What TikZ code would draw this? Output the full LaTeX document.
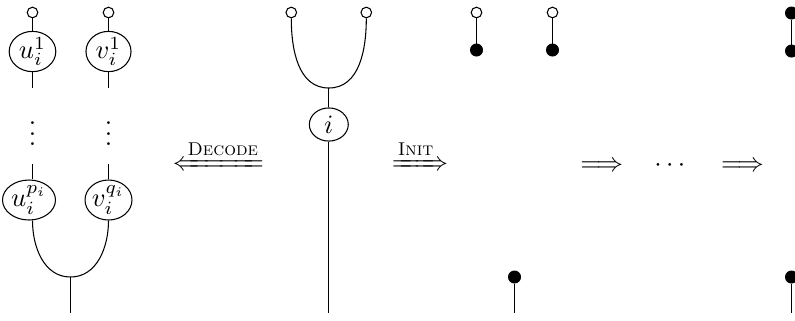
\documentclass[tikz,border=0pt]{standalone}
\usepackage{mathtools}
\usetikzlibrary{shapes.geometric}
\begin{document}
\begin{tikzpicture}[x=0.3774pt,y=-0.3774pt,
  opendot/.style={circle,draw,fill=white,inner sep=0pt,minimum size=4.0pt},
  fulldot/.style={circle,draw,fill=black,inner sep=0pt,minimum size=4.5pt},
  gen/.style={ellipse,draw,inner sep=0pt},
  lab/.style={anchor=base,inner sep=0pt},
]
\useasboundingbox (0,0) rectangle (795,320);
\clip (0,0) rectangle (795,320);

% ---- left diagram ----
\node[opendot] (ou) at (32.5,12.5) {};
\node[gen,minimum width=17.6pt,minimum height=14pt] (u1) at (32.5,51.5) {$u_i^1$};
\node[opendot] (ov) at (108.5,12.5) {};
\node[gen,minimum width=17pt,minimum height=14pt] (v1) at (108.5,51.5) {$v_i^1$};
\coordinate (u1e) at (32.5,88);
\coordinate (v1e) at (108.5,88);
\node[inner sep=0pt] (ud) at (32.5,126) {$\vdots$};
\node[inner sep=0pt] (vd) at (108.5,126) {$\vdots$};
\coordinate (u2s) at (32.5,164);
\coordinate (v2s) at (108.5,164);
\node[gen,minimum width=20pt,minimum height=15.1pt] (u2) at (29,200) {$u_i^{p_i}$};
\node[gen,minimum width=17pt,minimum height=15.1pt] (v2) at (108.5,200) {$v_i^{q_i}$};
\coordinate (j1) at (70.5,277);
\coordinate (e1) at (70.5,313);

\draw (ou) -- (u1);
\draw (ov) -- (v1);
\draw (u1) -- (u1e);
\draw (v1) -- (v1e);
\draw (u2s) -- (u2s |- u2.north);
\draw (v2s) -- (v2);
\draw (u2s |- u2.south) to[out=-90,in=180] (j1) to[out=0,in=-90] (v2.south);
\draw (j1) -- (e1);

% ---- arrows ----
\node[lab] (dec) at (218.4,170.5) {$\xLeftarrow{\textsc{Decode}}$};
\node[lab] (ini) at (420,170.5) {$\xRightarrow{\textsc{Init}}$};
\node[lab] (ar1) at (601.7,171) {$\Longrightarrow$};
\node[lab] (dd) at (672,171) {$\cdots$};
\node[lab] (ar2) at (742.5,171) {$\Longrightarrow$};

% ---- middle diagram ----
\node[opendot] (oa) at (291.3,12.5) {};
\node[opendot] (ob) at (366.3,12.5) {};
\coordinate (j2) at (328.8,88);
\node[gen,minimum width=14.7pt,minimum height=12.5pt] (ni) at (328.8,124.5) {$i$};
\coordinate (e2) at (328.8,313);
\draw (oa) to[out=-90,in=180] (j2) to[out=0,in=-90] (ob);
\draw (j2) -- (ni);
\draw (ni) -- (e2);

% ---- right diagram ----
\node[opendot] (r1a) at (476.5,12.5) {};
\node[fulldot] (r1b) at (476.5,50) {};
\node[opendot] (r2a) at (552.5,12.5) {};
\node[fulldot] (r2b) at (552.5,50) {};
\node[fulldot] (r3) at (514.5,277) {};
\coordinate (e3) at (514.5,313);
\draw (r1a) -- (r1b);
\draw (r2a) -- (r2b);
\draw (r3) -- (e3);

% ---- far right (cut off) ----
\node[fulldot] (s1a) at (791.5,13) {};
\node[fulldot] (s1b) at (791.5,51) {};
\node[fulldot] (s2) at (791.5,277) {};
\coordinate (e4) at (791.5,313);
\draw (s1a) -- (s1b);
\draw (s2) -- (e4);
\end{tikzpicture}
\end{document}
